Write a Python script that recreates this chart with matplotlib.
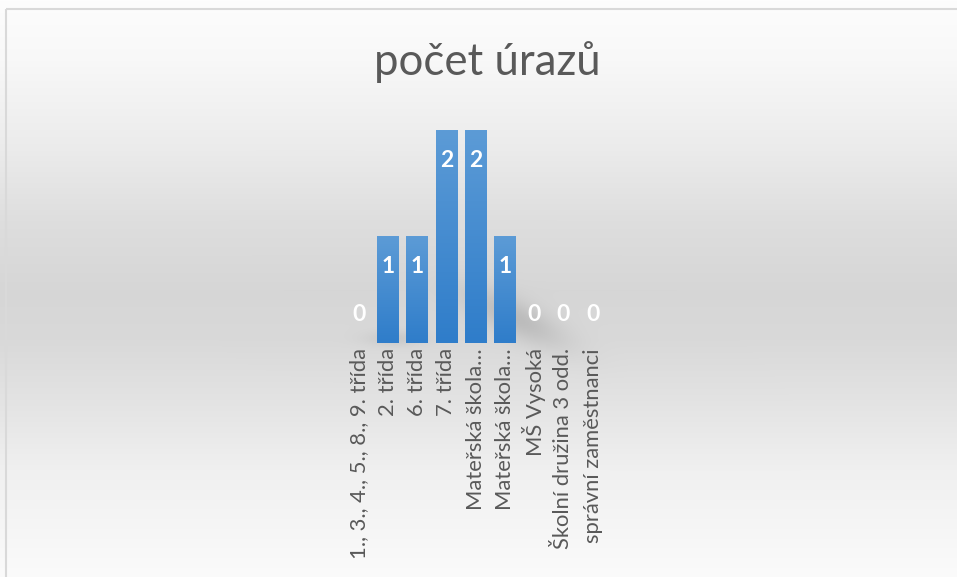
import numpy as np
import matplotlib.pyplot as plt
from matplotlib.colors import LinearSegmentedColormap
from matplotlib.patches import Rectangle

categories = ["1., 3., 4., 5., 8., 9. třída", "2. třída", "6. třída", "7. třída",
              "Mateřská škola…", "Mateřská škola…", "MŠ Vysoká",
              "Školní družina 3 odd.", "správní zaměstnanci"]
values = [0, 1, 1, 2, 2, 1, 0, 0, 0]
title = "počet úrazů"

W, H = 957, 577
plt.rcParams['font.family'] = ['Lato', 'DejaVu Sans']
fig = plt.figure(figsize=(W / 100, H / 100), dpi=100)

# background: vertical grey gradient + soft shadow behind the bars
yy = np.arange(H)
stops_y = [0, 60, 150, 220, 290, 340, 400, 470, 577]
stops_v = [253, 248, 235, 222, 214, 217, 227, 240, 251]
col = np.interp(yy, stops_y, stops_v) / 255.0
bg = np.repeat(col[:, None], W, axis=1)
X, Y = np.meshgrid(np.arange(W), np.arange(H))
u = (X - 515) * 0.9 + (Y - 318) * 0.45
v = -(X - 515) * 0.45 + (Y - 318) * 0.9
bg -= 0.11 * np.exp(-(u / 55.0) ** 2 - (v / 18.0) ** 2)
bg -= 0.06 * np.exp(-((X - 395) / 30.0) ** 2 - ((Y - 338) / 8.0) ** 2)
bax = fig.add_axes([0, 0, 1, 1])
bax.imshow(np.dstack([bg, bg, bg]).clip(0, 1), aspect='auto', extent=[0, W, H, 0])
bax.set_xlim(0, W)
bax.set_ylim(H, 0)
bax.axis('off')
bax.add_patch(Rectangle((5.5, 8.5), W + 10, H + 10, fill=False,
                        edgecolor='#d9d9d9', linewidth=1.5))

ax = fig.add_axes([344.1 / W, 1 - 342.7 / H, 263.25 / W, 212.7 / H])
ax.patch.set_alpha(0)
x = np.arange(len(categories))
bars = ax.bar(x, values, width=0.75, color='#4a8fd2', zorder=2)

cmap = LinearSegmentedColormap.from_list('blu', ['#5c9bd6', '#2f7dca'])
grad = np.linspace(0, 1, 100)[:, None]
for b in bars:
    if b.get_height() > 0:
        im = ax.imshow(grad, cmap=cmap, aspect='auto', zorder=3,
                       extent=[b.get_x(), b.get_x() + b.get_width(), 0, b.get_height()])
        im.set_clip_path(b)

ax.set_xlim(-0.5, len(categories) - 0.5)
ax.set_ylim(0, 2)

for xi, val in zip(x, values):
    off = -21.6 if val > 0 else 20.2
    ax.annotate(str(val), (xi, val), xytext=(0, off), textcoords='offset points',
                ha='center', va='center', color='white', fontsize=16.5,
                fontweight='bold', zorder=5)

ax.set_xticks(x)
ax.set_xticklabels(categories, rotation=90, color='#595959', fontsize=15.8)
ax.tick_params(axis='x', length=0, pad=4)
ax.set_yticks([])
for s in ax.spines.values():
    s.set_visible(False)

fig.text(487 / W, 1 - 62 / H, title, ha='center', va='center',
         fontsize=31.5, color='#595959')

fig.savefig('out.png', dpi=100)
